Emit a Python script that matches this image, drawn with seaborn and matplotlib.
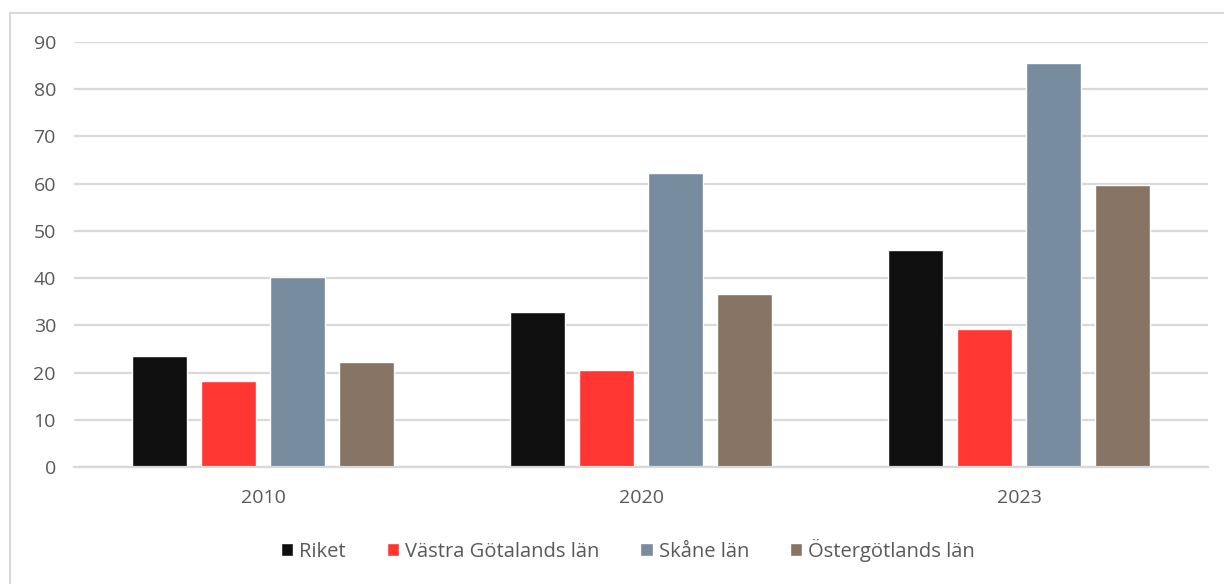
import pandas as pd
import seaborn as sns
import matplotlib.pyplot as plt
from matplotlib.patches import Rectangle

# data
years = ["2010", "2020", "2023"]
regions = ["Riket", "Västra Götalands län", "Skåne län", "Östergötlands län"]
riket = [23.6, 32.9, 46.0]
vastra_gotaland = [18.3, 20.6, 29.3]
skane = [40.3, 62.3, 85.6]
ostergotland = [22.3, 36.7, 59.8]
colors = ["#0f0f0f", "#ff3631", "#788ca0", "#877465"]

rows = []
for region, values in zip(regions, [riket, vastra_gotaland, skane, ostergotland]):
    for year, v in zip(years, values):
        rows.append({"year": year, "region": region, "value": v})
df = pd.DataFrame(rows)

sns.set_theme(style="white")
plt.rcParams["font.family"] = ["Open Sans", "DejaVu Sans"]
text_color = "#595959"

fig = plt.figure(figsize=(12.24, 5.84), dpi=100)
ax = fig.add_axes([74 / 1224, 1 - 467 / 584, 1134 / 1224, 425 / 584])

sns.barplot(data=df, x="year", y="value", hue="region", hue_order=regions,
            palette=colors, width=0.73, gap=0.21, saturation=1,
            ax=ax, legend=True)

ax.set_ylim(0, 90)
ax.set_xlim(-0.5, 2.5)
ax.set_yticks(range(0, 91, 10))
ax.yaxis.grid(True, color="#d9d9d9", linewidth=1.6)
ax.set_axisbelow(True)
for side in ["top", "right", "left"]:
    ax.spines[side].set_visible(False)
ax.spines["bottom"].set_color("#d9d9d9")
ax.spines["bottom"].set_linewidth(1.6)
ax.tick_params(axis="both", length=0, labelsize=14, colors=text_color)
ax.tick_params(axis="y", pad=13)
ax.tick_params(axis="x", pad=16)
ax.set_xlabel("")
ax.set_ylabel("")

handles, labels = ax.get_legend_handles_labels()
ax.get_legend().remove()
leg = fig.legend(handles, labels, loc="center", bbox_to_anchor=(0.513, 1 - 550 / 584),
                 ncol=4, frameon=False, fontsize=14.5, handlelength=0.6,
                 handleheight=0.6, handletextpad=0.3, columnspacing=2.05)
for t in leg.get_texts():
    t.set_color(text_color)

# light outer chart border
fig.patches.append(Rectangle((10 / 1224, -0.05), 1.1, 1 - 13 / 584 + 0.05,
                             transform=fig.transFigure, fill=False,
                             edgecolor="#d9d9d9", linewidth=1.5))

fig.savefig("out.png", dpi=100, facecolor="white")
